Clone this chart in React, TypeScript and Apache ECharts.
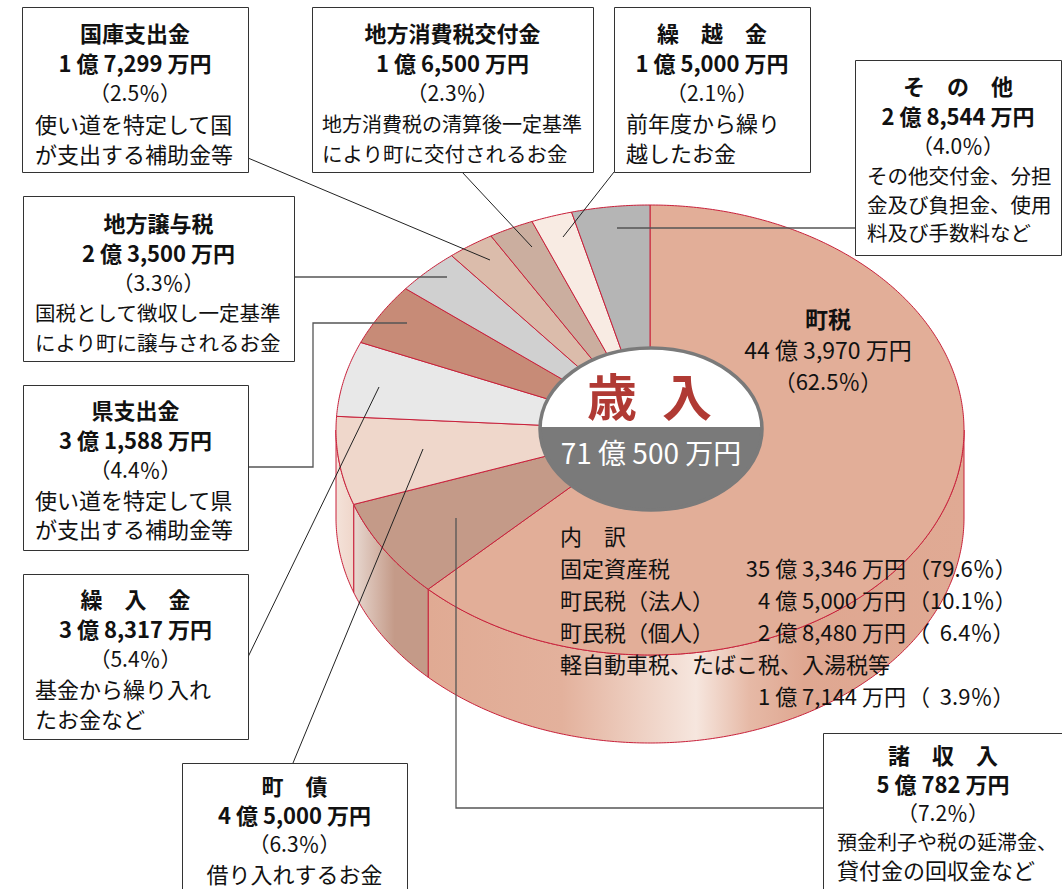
import React, { useEffect, useRef } from 'react';
import * as echarts from 'echarts';

// ---------- data (万円) ----------
const categories = ['町税', '諸収入', '町債', '繰入金', '県支出金', '地方譲与税', '国庫支出金', '地方消費税交付金', '繰越金', 'その他'];
const amounts = [443970, 50782, 45000, 38317, 31588, 23500, 17299, 16500, 15000, 28544];
const percents = [62.5, 7.2, 6.3, 5.4, 4.4, 3.3, 2.5, 2.3, 2.1, 4.0];
const boxTitles = ['町税', '諸　収　入', '町　債', '繰　入　金', '県支出金', '地方譲与税', '国庫支出金', '地方消費税交付金', '繰　越　金', 'そ　の　他'];
const descriptions = [
  [],
  ['預金利子や税の延滞金、', '貸付金の回収金など'],
  ['借り入れするお金'],
  ['基金から繰り入れ', 'たお金など'],
  ['使い道を特定して県', 'が支出する補助金等'],
  ['国税として徴収し一定基準', 'により町に譲与されるお金'],
  ['使い道を特定して国', 'が支出する補助金等'],
  ['地方消費税の清算後一定基準', 'により町に交付されるお金'],
  ['前年度から繰り', '越したお金'],
  ['その他交付金、分担', '金及び負担金、使用', '料及び手数料など'],
];
const breakdownTitle = '内　訳';
const breakdownNames = ['固定資産税', '町民税（法人）', '町民税（個人）', '軽自動車税、たばこ税、入湯税等'];
const breakdownAmounts = [353346, 45000, 28480, 17144];
const breakdownPercents = [79.6, 10.1, 6.4, 3.9];
const centerTitle = ['歳', '入'];

// ---------- styles / layout ----------
const FONT = '"Noto Sans CJK JP", "Noto Sans", sans-serif';
const STROKE = '#c8203a';
const topColors = ['#e2ae98', '#c49a88', '#efd7cb', '#e8e8e8', '#c78b77', '#d0d0d0', '#dbbcab', '#cbae9f', '#f8ebe3', '#b5b5b5'];
const CX = 650, CY = 430, RX = 314, RY = 225, DEPTH = 88;

function sideFill(i: number): any {
  if (i === 0) {
    return new echarts.graphic.LinearGradient(0, 0, 1, 0, [
      { offset: 0, color: '#e0aa93' },
      { offset: 0.25, color: '#e3b19c' },
      { offset: 0.5, color: '#f6e6de' },
      { offset: 0.6, color: '#e6b9a6' },
      { offset: 0.7, color: '#dfa791' },
      { offset: 1, color: '#e0aa94' },
    ]);
  }
  if (i === 1) {
    return new echarts.graphic.LinearGradient(0, 0, 1, 0, [
      { offset: 0, color: '#e8d8d0' },
      { offset: 0.55, color: '#c49a88' },
      { offset: 1, color: '#c49a88' },
    ]);
  }
  return new echarts.graphic.LinearGradient(0, 0, 1, 0, [
    { offset: 0, color: '#f4e2d9' },
    { offset: 1, color: '#efd6ca' },
  ]);
}

function fmtAmount(v: number) {
  const oku = Math.floor(v / 10000);
  const man = v % 10000;
  return `${oku} 億 ${man.toLocaleString('en-US')} 万円`;
}
function fmtPct(p: number, pad = false) {
  return `（${pad && p < 10 ? '  ' : ''}${p.toFixed(1)}％）`;
}

type Box = {
  x: number; y: number; w: number; h: number;
  lines: number[]; descX: number | null; descSizes: number[];
  leader: number[][]; leaderColor: string; leaderWidth: number;
};

const boxes: (Box | null)[] = [
  null,
  { x: 823, y: 733, w: 240, h: 170, lines: [21, 50, 79, 108, 136], descX: 837, descSizes: [20, 22], leader: [[823, 808], [456, 808], [456, 518]], leaderColor: '#555', leaderWidth: 1.3 },
  { x: 182, y: 763, w: 225, h: 140, lines: [22, 51, 80, 110], descX: null, descSizes: [22], leader: [[293, 763], [423, 449]], leaderColor: '#222', leaderWidth: 1 },
  { x: 23, y: 574, w: 225, h: 165, lines: [24, 54, 84, 114, 144], descX: 35, descSizes: [22, 22], leader: [[248, 657], [379, 387]], leaderColor: '#222', leaderWidth: 1 },
  { x: 23, y: 385, w: 225, h: 165, lines: [24, 54, 84, 114, 143], descX: 35, descSizes: [22, 22], leader: [[248, 467], [313, 467], [313, 323], [407, 323]], leaderColor: '#555', leaderWidth: 1.3 },
  { x: 23, y: 196, w: 271, h: 165, lines: [26, 56, 86, 116, 146], descX: 35, descSizes: [20.5, 20.5], leader: [[294, 277], [447, 277]], leaderColor: '#555', leaderWidth: 1.3 },
  { x: 22, y: 7, w: 226, h: 165, lines: [25, 55, 85, 116, 146], descX: 35, descSizes: [22, 22], leader: [[248, 158], [490, 260]], leaderColor: '#222', leaderWidth: 1 },
  { x: 312, y: 7, w: 281, h: 165, lines: [25, 55, 85, 116, 146], descX: 322, descSizes: [20, 20.5], leader: [[462, 172], [532, 247]], leaderColor: '#222', leaderWidth: 1 },
  { x: 614, y: 7, w: 196, h: 165, lines: [25, 55, 85, 115, 145], descX: 626, descSizes: [22, 22], leader: [[614, 172], [563, 237]], leaderColor: '#222', leaderWidth: 1 },
  { x: 855, y: 60, w: 206, h: 195, lines: [25, 55, 85, 115, 144, 172], descX: 867, descSizes: [20.5, 20.5, 20.5], leader: [[855, 228], [617, 228]], leaderColor: '#555', leaderWidth: 1.3 },
];

function txt(x: number, y: number, text: string, size: number, opts: any = {}) {
  return {
    type: 'text', x, y, z: 20, silent: true,
    style: {
      text, fill: opts.fill || '#111', fontSize: size, fontFamily: FONT, lineHeight: Math.round(size * 1.0),
      fontWeight: opts.weight || 'normal', align: opts.align || 'center', verticalAlign: 'middle',
    },
  };
}

function buildGraphics() {
  const g: any[] = [];
  // leader lines
  boxes.forEach((b) => {
    if (!b) return;
    g.push({ type: 'polyline', z: 15, silent: true, shape: { points: b.leader }, style: { stroke: b.leaderColor, lineWidth: b.leaderWidth, fill: 'none' } });
  });
  // boxes
  boxes.forEach((b, i) => {
    if (!b) return;
    g.push({ type: 'rect', z: 16, silent: true, shape: { x: b.x + 0.5, y: b.y + 0.5, width: b.w, height: b.h }, style: { fill: '#fff', stroke: '#333', lineWidth: 1 } });
    const cx = b.x + b.w / 2;
    g.push(txt(cx, b.y + b.lines[0], boxTitles[i], 22, { weight: 'bold' }));
    g.push(txt(cx, b.y + b.lines[1], fmtAmount(amounts[i]), 22, { weight: 'bold' }));
    g.push(txt(cx, b.y + b.lines[2], fmtPct(percents[i]), 21));
    descriptions[i].forEach((d, k) => {
      const size = b.descSizes[k] || 22;
      if (b.descX === null) g.push(txt(cx, b.y + b.lines[3 + k], d, size));
      else g.push(txt(b.descX, b.y + b.lines[3 + k], d, size, { align: 'left' }));
    });
  });
  // 町税 label on pie
  g.push(txt(828, 318, categories[0], 23, { weight: 'bold' }));
  g.push(txt(828, 349, fmtAmount(amounts[0]), 23));
  g.push(txt(828, 380, fmtPct(percents[0]), 22));
  // breakdown
  g.push(txt(560, 535, breakdownTitle, 22, { align: 'left' }));
  const rowY = [567, 599, 631, 663];
  breakdownNames.forEach((n, k) => {
    g.push(txt(560, rowY[k], n, 22, { align: 'left' }));
    const ay = k === 3 ? 695 : rowY[k];
    g.push(txt(906, ay, fmtAmount(breakdownAmounts[k]), 22, { align: 'right' }));
    g.push(txt(908, ay, fmtPct(breakdownPercents[k], true), 22, { align: 'left' }));
  });
  // center label
  const LX = 651, LY = 429, LRX = 111, LRY = 81, DIV = 427;
  const upper: number[][] = [];
  for (let k = 0; k <= 180; k++) {
    const t = Math.PI + (Math.PI * k) / 180;
    upper.push([LX + LRX * Math.cos(t), Math.min(LY + LRY * Math.sin(t), DIV)]);
  }
  g.push({ type: 'ellipse', z: 30, silent: true, shape: { cx: LX, cy: LY, rx: LRX, ry: LRY }, style: { fill: '#7a7a7a' } });
  g.push({ type: 'polygon', z: 31, silent: true, shape: { points: upper }, style: { fill: '#ffffff' } });
  g.push({ type: 'ellipse', z: 32, silent: true, shape: { cx: LX, cy: LY, rx: LRX, ry: LRY }, style: { fill: 'none', stroke: '#7a7a7a', lineWidth: 3.5 } });
  const t1 = txt(612, 394, centerTitle[0], 50, { weight: 'bold', fill: '#b03a34' }); t1.z = 33;
  const t2 = txt(687, 394, centerTitle[1], 50, { weight: 'bold', fill: '#b03a34' }); t2.z = 33;
  const total = amounts.reduce((a, b) => a + b, 0);
  const t3 = txt(LX, 452, fmtAmount(total), 28, { fill: '#ffffff' }); t3.z = 33;
  g.push(t1, t2, t3);
  return g;
}

export default function App() {
  const ref = useRef<HTMLDivElement>(null);
  useEffect(() => {
    document.body.style.margin = '0';
    if (!ref.current) return;
    const chart = echarts.init(ref.current, undefined, { renderer: 'svg' });
    const total = amounts.reduce((a, b) => a + b, 0);
    const cum: number[] = [];
    amounts.reduce((acc, v, i) => { cum[i] = acc; return acc + v; }, 0);
    const data = amounts.map((v, i) => ({ name: categories[i], value: [v, cum[i]] }));

    const pt = (t: number, dy = 0) => [CX + RX * Math.sin(t), CY - RY * Math.cos(t) + dy];
    const arc = (from: number, to: number, dy: number) => {
      const n = Math.max(2, Math.ceil(Math.abs(to - from) / (Math.PI / 360)));
      const out: number[][] = [];
      for (let k = 0; k <= n; k++) out.push(pt(from + ((to - from) * k) / n, dy));
      return out;
    };

    chart.setOption({
      animation: false,
      backgroundColor: '#ffffff',
      series: [
        {
          type: 'custom',
          coordinateSystem: 'none',
          silent: true,
          data,
          renderItem: (params: any, api: any) => {
            const i = params.dataIndex;
            const v = api.value(0) as number;
            const s = api.value(1) as number;
            const a0 = (s / total) * Math.PI * 2;
            const a1 = ((s + v) / total) * Math.PI * 2;
            const children: any[] = [];
            const fs = Math.max(a0, Math.PI / 2);
            const fe = Math.min(a1, Math.PI * 1.5);
            if (fe > fs) {
              const pts = [...arc(fs, fe, 0), ...arc(fe, fs, DEPTH)];
              children.push({ type: 'polygon', shape: { points: pts }, style: { fill: sideFill(i), stroke: STROKE, lineWidth: 1 } });
            }
            children.push({
              type: 'polygon',
              shape: { points: [[CX, CY], ...arc(a0, a1, 0)] },
              style: { fill: topColors[i], stroke: STROKE, lineWidth: 1 },
            });
            return { type: 'group', children };
          },
        },
      ],
      graphic: buildGraphics(),
    });
    return () => chart.dispose();
  }, []);
  return <div ref={ref} style={{ width: 1062, height: 889 }} />;
}
